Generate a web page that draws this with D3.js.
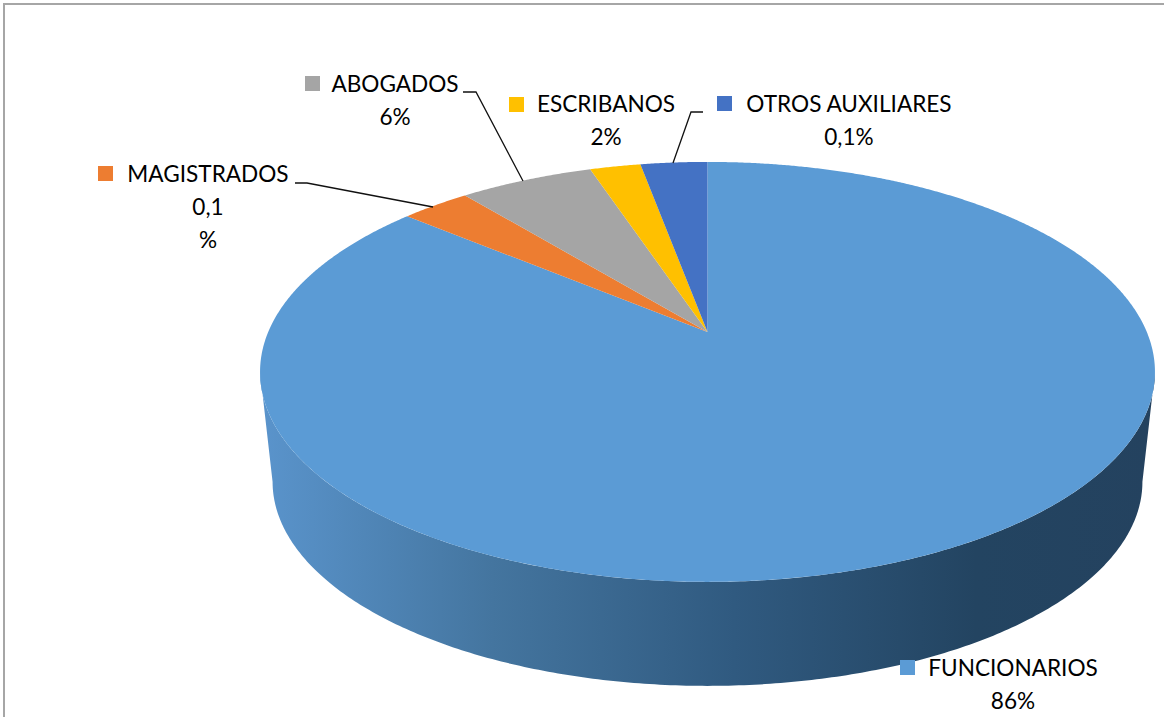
<!DOCTYPE html>
<html>
<head>
<meta charset="utf-8">
<script src="https://cdn.jsdelivr.net/npm/d3@7"></script>
<style>
  html, body { margin: 0; padding: 0; background: #fff; }
  svg { display: block; }
  text { font-family: Lato, "Open Sans", sans-serif; font-size: 22.6px; fill: #000; }
</style>
</head>
<body>
<svg id="chart" width="1164" height="717"></svg>
<script>
// slice sizes as they are drawn, labels as printed (the printed % don't match the slices)
const categories = ["FUNCIONARIOS", "MAGISTRADOS", "ABOGADOS", "ESCRIBANOS", "OTROS AUXILIARES"];
const sliceValues = [86, 3, 5.8, 2.2, 2.9];
const percentLines = [["86%"], ["0,1", "%"], ["6%"], ["2%"], ["0,1%"]];
const sliceColors = ["#5b9bd5", "#ed7d31", "#a5a5a5", "#ffc000", "#4472c4"];

// label layout: swatch left/top, text centre, first baseline
const labelLayout = [
  { sx: 900, sy: 660, cx: 1013, y: 676 },
  { sx: 98, sy: 166, cx: 208, y: 182 },
  { sx: 305, sy: 76, cx: 395, y: 92 },
  { sx: 509, sy: 97, cx: 606, y: 112 },
  { sx: 717, sy: 96, cx: 849, y: 112 }
];
const leaders = [
  [[295, 183], [307, 183], [433, 207]],
  [[463, 92], [476, 92], [523, 181]],
  [[703, 112], [691, 112], [673, 163]]
];

const svg = d3.select("#chart");

// frame
svg.append("path")
  .attr("d", "M4,717V4H1164")
  .attr("fill", "none")
  .attr("stroke", "#a6a6a6")
  .attr("stroke-width", 2);

// pie seen in perspective: apex is off the ellipse centre
const apexX = 707.5, apexY = 332;
const persp = -0.19, radX = 439.3, radY = 202.4;
const wallDrop = 111, wallScale = 0.972;

function project(angle, r, drop, scale) {
  const u = Math.sin(angle) * r, v = -Math.cos(angle) * r;
  const w = 1 + persp * v;
  return [apexX + radX * u / w * scale, apexY + drop + radY * v / w * scale];
}

const line = d3.line();
const pie = d3.pie().sort(null)(sliceValues);

// side wall, between the two tangent points of the top ellipse
const gradient = svg.append("defs").append("linearGradient")
  .attr("id", "wall")
  .attr("gradientUnits", "userSpaceOnUse")
  .attr("x1", 260).attr("x2", 1155).attr("y1", 0).attr("y2", 0);
[[0, "#5a94cc"], [0.26, "#44759f"], [0.53, "#305a80"], [0.8, "#234461"], [1, "#24425f"]]
  .forEach(s => gradient.append("stop").attr("offset", s[0]).attr("stop-color", s[1]));

const tangent = Math.acos(persp);
const sweep = d3.range(tangent, 2 * Math.PI - tangent, 0.01).concat(2 * Math.PI - tangent);
const wallPts = sweep.map(a => project(a, 1, 0, 1))
  .concat(sweep.slice().reverse().map(a => project(a, 1, wallDrop, wallScale)));
svg.append("path")
  .attr("d", line(wallPts) + "Z")
  .attr("fill", "url(#wall)");

// top face
svg.selectAll("path.slice")
  .data(pie)
  .join("path")
  .attr("class", "slice")
  .attr("fill", (d, i) => sliceColors[i])
  .attr("d", d => {
    const steps = d3.range(d.startAngle, d.endAngle, 0.005).concat(d.endAngle);
    return line([[apexX, apexY]].concat(steps.map(a => project(a, 1, 0, 1)))) + "Z";
  });

// leader lines
svg.selectAll("path.leader")
  .data(leaders)
  .join("path")
  .attr("class", "leader")
  .attr("d", line)
  .attr("fill", "none")
  .attr("stroke", "#111")
  .attr("stroke-width", 1.3);

// labels
categories.forEach((name, i) => {
  const pos = labelLayout[i];
  svg.append("rect")
    .attr("x", pos.sx).attr("y", pos.sy)
    .attr("width", 15).attr("height", 15)
    .attr("fill", sliceColors[i]);
  svg.append("text")
    .attr("x", pos.cx).attr("y", pos.y)
    .attr("text-anchor", "middle")
    .text(name);
  percentLines[i].forEach((txt, j) => {
    svg.append("text")
      .attr("x", pos.cx).attr("y", pos.y + 33 * (j + 1))
      .attr("text-anchor", "middle")
      .text(txt);
  });
});
</script>
</body>
</html>
